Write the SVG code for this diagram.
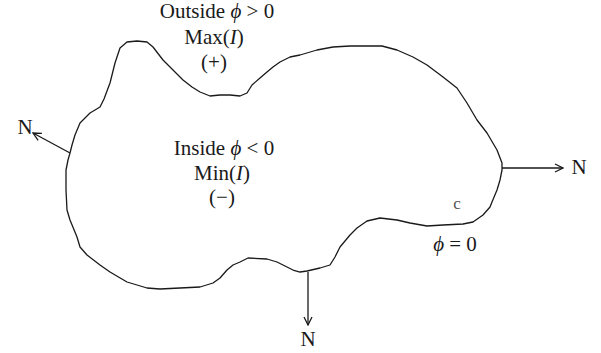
<svg xmlns="http://www.w3.org/2000/svg" width="601" height="353" viewBox="0 0 601 353">
<style>
.t{font-family:"Liberation Serif","Times New Roman",serif;font-size:21px;fill:#1a1a1a;text-anchor:middle}
.i{font-style:italic}
.c{font-family:"Liberation Serif",serif;font-size:17px;fill:#555;text-anchor:middle}
.curve{fill:none;stroke:#1a1a1a;stroke-width:1.3;stroke-linejoin:round}
.ln{fill:none;stroke:#1a1a1a;stroke-width:1.3}
</style>
<defs>
<marker id="ah" viewBox="0 0 10 10" refX="9" refY="5" markerWidth="10" markerHeight="10" markerUnits="userSpaceOnUse" orient="auto">
<path d="M1,1 L9,5 L1,9" fill="none" stroke="#1a1a1a" stroke-width="1.3"/>
</marker>
</defs>
<g id="contour">
<path class="curve" d="M70,153 L72,145 L75,135 L80,123 L90,113 L100,107 L104,99 L110,83 L115,63 L120,48 L127,42 L137,41 L147,42 L153,47 L163,60 L173,70 L183,80 L192,87 L200,92 L210,96 L220,95 L230,95 L240,96 L247,93 L252,85 L260,78 L267,72 L273,67 L280,62 L290,57 L300,55 L317,50 L333,47 L350,46 L382,46 L397,50 L413,57 L427,65 L443,77 L457,88 L467,103 L477,120 L487,133 L497,150 L502,163 L502,170 L500,180 L497,190 L492,202 L490,207 L483,215 L473,222 L463,224 L443,225 L427,226 L410,223 L397,220 L380,218 L367,221 L357,228 L350,235 L340,247 L335,257 L330,265 L320,268 L307,271 L300,272 L293,270 L287,267 L277,262 L267,259 L248,258 L240,262 L233,265 L227,270 L220,278 L213,283 L200,287 L180,288 L160,289 L147,288 L127,282 L110,272 L100,265 L87,255 L80,247 L77,237 L70,220 L67,210 L66,190 L66,170 L68,160 Z"/>
<text class="c" x="457" y="209">c</text>
<text class="t" x="455" y="251"><tspan class="i">ϕ</tspan> = 0</text>
</g>
<g id="outside">
<text class="t" x="217" y="18">Outside <tspan class="i">ϕ</tspan> &gt; 0</text>
<text class="t" x="214" y="44">Max(<tspan class="i">I</tspan>)</text>
<text class="t" x="214" y="69">(+)</text>
</g>
<g id="inside">
<text class="t" x="224" y="155">Inside <tspan class="i">ϕ</tspan> &lt; 0</text>
<text class="t" x="222" y="180">Min(<tspan class="i">I</tspan>)</text>
<text class="t" x="222" y="204">(−)</text>
</g>
<g id="connectors">
<line class="ln" x1="70" y1="153" x2="33" y2="133" marker-end="url(#ah)"/>
<line class="ln" x1="502" y1="168" x2="563" y2="168" marker-end="url(#ah)"/>
<line class="ln" x1="308" y1="272" x2="308" y2="325" marker-end="url(#ah)"/>
</g>
<g id="labels">
<text class="t" x="25" y="134">N</text>
<text class="t" x="579" y="174">N</text>
<text class="t" x="308" y="346">N</text>
</g>
</svg>
